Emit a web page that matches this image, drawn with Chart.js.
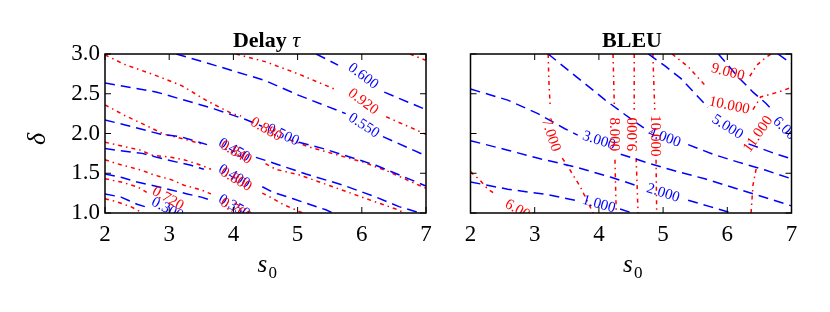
<!DOCTYPE html>
<html>
<head>
<meta charset="utf-8">
<script src="https://cdn.jsdelivr.net/npm/chart.js@4.4.0/dist/chart.umd.min.js"></script>
<style>
  body { margin: 0; background: #fff; width: 830px; height: 312px; position: relative; overflow: hidden; }
  #delayChart { position: absolute; left: 0; top: 0; }
  #bleuChart { position: absolute; left: 440px; top: 0; }
</style>
</head>
<body>
<canvas id="delayChart" width="440" height="312"></canvas>
<canvas id="bleuChart" width="390" height="312"></canvas>
<script>
// axis ticks (both panels share them)
var xTicks = [2, 3, 4, 5, 6, 7];
var yTicks = [1.0, 1.5, 2.0, 2.5, 3.0];

// ---- Delay tau panel ----
// contour lines as [s0, delta] points, null = gap left for the inline label
var delayBlueLevels = ['0.600', '0.550', '0.500', '0.450', '0.400', '0.350', '0.300'];
var delayBlueLines = [
  [[5.29, 3.0], [5.63, 2.86], null, [6.35, 2.52], [7.0, 2.30]],
  [[3.11, 3.0], [3.70, 2.86], [4.48, 2.67], [5.02, 2.48], [5.75, 2.25], null, [6.33, 1.96], [7.0, 1.72]],
  [[2.0, 2.635], [2.81, 2.52], [3.70, 2.31], [4.21, 2.17], [4.45, 2.09], null, [5.02, 1.89], [5.40, 1.81], [6.22, 1.60], [7.0, 1.34]],
  [[2.0, 2.17], [2.30, 2.11], [2.87, 1.99], [3.18, 1.96], [3.59, 1.86], null, [4.35, 1.70], [4.62, 1.63], [5.13, 1.49], [5.71, 1.35], [6.22, 1.20], [6.58, 1.08], [6.91, 1.0]],
  [[2.0, 1.81], [2.19, 1.79], [2.58, 1.75], [2.81, 1.70], [3.12, 1.64], [3.34, 1.60], [3.54, 1.55], null, [4.45, 1.33], [4.62, 1.26], [4.93, 1.18], [5.18, 1.11], [5.44, 1.04], [5.55, 1.0]],
  [[2.0, 1.49], [2.25, 1.45], [2.50, 1.39], [2.72, 1.35], [3.03, 1.29], [3.28, 1.24], [3.50, 1.20], [3.65, 1.16]],
  [[2.0, 1.24], [2.25, 1.20], [2.50, 1.11], [2.70, 1.06]]
];
var delayBlueLabelAt = [[6.02, 2.72], [6.03, 2.10], [4.77, 1.98], [4.01, 1.79], [4.01, 1.46], [4.01, 1.08], [2.97, 1.05]];
var delayBlueLabelAngle = [37, 33, 25, 30, 30, 30, 27];

var delayRedLevels = ['0.960', '0.920', '0.880', '0.840', '0.800', '0.760', '0.720', '0.680'];
var delayRedLines = [
  [[6.75, 3.0], [7.0, 2.92]],
  [[4.04, 3.0], [4.51, 2.90], [5.01, 2.75], [5.57, 2.56], null, [6.38, 2.21], [7.0, 1.99]],
  [[2.0, 2.99], [2.30, 2.87], [2.76, 2.74], [3.20, 2.60], [3.59, 2.41], [3.98, 2.25], [4.12, 2.22], null, [4.88, 1.92], [5.18, 1.83], [6.02, 1.64], [6.42, 1.52], [7.0, 1.31]],
  [[2.0, 2.36], [2.30, 2.23], [2.72, 2.07], [2.92, 1.99], [3.23, 1.93], [3.50, 1.87], null, [4.50, 1.62], [4.66, 1.55], [5.02, 1.48], [5.55, 1.33], [6.07, 1.18], [6.53, 1.05], [6.67, 1.0]],
  [[2.0, 1.89], [2.33, 1.83], [2.56, 1.79], [2.72, 1.73], [3.03, 1.70], [3.23, 1.67], [3.50, 1.60], [3.65, 1.55], null, [4.45, 1.25], [4.62, 1.18], [4.77, 1.11], [5.08, 1.0]],
  [[2.0, 1.67], [2.19, 1.62], [2.56, 1.54], [2.76, 1.48], [3.03, 1.42], [3.23, 1.35], [3.50, 1.29], [3.65, 1.24]],
  [[2.0, 1.43], [2.25, 1.39], [2.50, 1.33], [2.65, 1.26]],
  [[2.0, 1.18], [2.19, 1.14], [2.40, 1.08], [2.59, 1.0]]
];
var delayRedLabelAt = [null, [6.02, 2.40], [4.51, 2.05], [4.04, 1.76], [4.04, 1.42], [4.04, 1.04], [2.98, 1.18], null];
var delayRedLabelAngle = [0, 37, 30, 30, 30, 30, 30, 0];

// ---- BLEU panel ----
var bleuBlueLevels = ['1.000', '2.000', '3.000', '4.000', '5.000', '6.000', '7.000'];
var bleuBlueLines = [
  [[2.0, 1.39], [2.58, 1.30], [3.21, 1.23], [3.63, 1.16], null, [4.33, 1.05], [4.52, 1.0]],
  [[2.0, 1.91], [2.58, 1.79], [3.10, 1.68], [3.63, 1.58], [4.19, 1.45], [4.64, 1.33], null, [5.39, 1.16], [5.73, 1.08], [6.07, 1.0]],
  [[2.0, 2.56], [2.58, 2.42], [3.05, 2.25], [3.47, 2.06], [3.67, 1.98], null, [4.34, 1.74], [4.80, 1.62], [5.23, 1.52], [5.65, 1.43], [6.21, 1.29], [7.0, 1.09]],
  [[3.21, 3.0], [3.67, 2.70], [4.10, 2.42], [4.52, 2.17], [4.70, 2.07], null, [5.39, 1.86], [5.81, 1.73], [6.17, 1.64], [6.59, 1.54], [7.0, 1.43]],
  [[4.77, 3.0], [5.03, 2.85], [5.28, 2.69], [5.50, 2.50], [5.70, 2.33], null, [6.33, 1.87], [6.70, 1.76], [7.0, 1.68]],
  [[5.86, 3.0], [6.17, 2.71], [6.40, 2.52], [6.60, 2.38], [6.72, 2.28]],
  [[6.79, 3.0], [7.0, 2.88]]
];
var bleuBlueLabelAt = [[4.0, 1.11], [5.0, 1.25], [4.0, 1.91], [5.02, 1.95], [6.0, 2.08], [6.93, 2.03], null];
var bleuBlueLabelAngle = [16, 18, 18, 20, 32, 45, 0];

var bleuRedLevels = ['6.000', '7.000', '8.000', '9.000', '10.000', '9.000', '10.000', '11.000'];
var bleuRedLines = [
  [[2.0, 1.52], [2.15, 1.41], [2.27, 1.30], [2.40, 1.23]],
  [[3.21, 3.0], [3.22, 2.67], [3.24, 2.36], null, [3.43, 1.69], [3.52, 1.58], [3.71, 1.33], [3.91, 1.0]],
  [[4.22, 3.0], [4.24, 2.36], null, [4.25, 1.67], [4.27, 1.0]],
  [[4.55, 3.0], [4.55, 2.30], null, [4.58, 1.69], [4.61, 1.0]],
  [[4.84, 3.0], [4.87, 2.30], null, [4.89, 1.67], [4.90, 1.0]],
  [[6.35, 2.72], [6.46, 2.86], [6.59, 2.95], [6.68, 3.0]],
  [[5.14, 3.0], [5.39, 2.84], [5.65, 2.61], null, [6.40, 2.30], [6.52, 2.46], [6.79, 2.52], [7.0, 2.58]],
  [[6.37, 1.0], [6.40, 1.35], [6.46, 1.60]]
];
var bleuRedLabelAt = [[2.78, 1.02], [3.25, 1.98], [4.235, 1.99], [4.53, 1.99], [4.87, 1.97], [6.01, 2.77], [6.03, 2.35], [6.48, 1.99]];
var bleuRedLabelAngle = [30, 72, 90, -90, 90, 15, 12, -55];

var BLUE = '#0000ff', RED = '#ff0000';
var SERIF = '"Liberation Serif", "DejaVu Serif", serif';

function toSegments(line) {
  var segs = [], cur = [];
  line.forEach(function (p) {
    if (p === null) { if (cur.length > 1) segs.push(cur); cur = []; }
    else cur.push({ x: p[0], y: p[1] });
  });
  if (cur.length > 1) segs.push(cur);
  return segs;
}

function contourSets(lines, color, dash) {
  var out = [];
  lines.forEach(function (line) {
    toSegments(line).forEach(function (seg) {
      out.push({ data: seg, borderColor: color, borderWidth: 1.5, borderDash: dash,
                 pointRadius: 0, fill: false, tension: 0 });
    });
  });
  return out;
}

function labelList(levels, at, angle, color) {
  var out = [];
  levels.forEach(function (t, i) {
    if (at[i]) out.push({ text: t, at: at[i], angle: angle[i], color: color });
  });
  return out;
}

function seg(ctx, x1, y1, x2, y2) {
  ctx.beginPath(); ctx.moveTo(x1, y1); ctx.lineTo(x2, y2); ctx.stroke();
}

// frame, inward ticks, inline contour labels, title and axis labels
function decorPlugin(cfg) {
  return {
    id: 'decor',
    afterDatasetsDraw: function (chart) {
      var ctx = chart.ctx, a = chart.chartArea, sx = chart.scales.x, sy = chart.scales.y;

      ctx.save();
      ctx.beginPath();
      ctx.rect(a.left, a.top, a.right - a.left, a.bottom - a.top);
      ctx.clip();
      ctx.font = '15px ' + SERIF;
      ctx.textAlign = 'center';
      ctx.textBaseline = 'middle';
      cfg.labels.forEach(function (l) {
        ctx.save();
        ctx.translate(sx.getPixelForValue(l.at[0]), sy.getPixelForValue(l.at[1]));
        ctx.rotate(l.angle * Math.PI / 180);
        ctx.fillStyle = l.color;
        ctx.fillText(l.text, 0, 0);
        ctx.restore();
      });
      ctx.restore();

      ctx.save();
      ctx.strokeStyle = '#000';
      ctx.lineWidth = 1.5;
      ctx.strokeRect(a.left, a.top, a.right - a.left, a.bottom - a.top);
      ctx.lineWidth = 1;
      xTicks.forEach(function (v) {
        var px = sx.getPixelForValue(v);
        seg(ctx, px, a.bottom, px, a.bottom - 6);
        seg(ctx, px, a.top, px, a.top + 6);
      });
      yTicks.forEach(function (v) {
        var py = sy.getPixelForValue(v);
        seg(ctx, a.left, py, a.left + 6, py);
        seg(ctx, a.right, py, a.right - 6, py);
      });

      // title
      ctx.fillStyle = '#000';
      ctx.textBaseline = 'alphabetic';
      ctx.textAlign = 'left';
      var cx = (a.left + a.right) / 2;
      ctx.font = 'bold 22px ' + SERIF;
      var w1 = ctx.measureText(cfg.title).width;
      var w2 = 0;
      if (cfg.titleSym) {
        ctx.font = 'italic 22px ' + SERIF;
        w2 = ctx.measureText(' ' + cfg.titleSym).width;
      }
      var tx = cx - (w1 + w2) / 2 + 1;
      ctx.font = 'bold 22px ' + SERIF;
      ctx.fillText(cfg.title, tx, 47);
      if (cfg.titleSym) {
        ctx.font = 'italic 22px ' + SERIF;
        ctx.fillText(' ' + cfg.titleSym, tx + w1, 47);
      }

      // x label: s with subscript 0
      ctx.font = 'italic 25px ' + SERIF;
      ctx.fillText('s', cx - 8, 272);
      ctx.font = '17px ' + SERIF;
      ctx.fillText('0', cx + 3, 278);

      // y label
      if (cfg.yLabel) {
        ctx.save();
        ctx.translate(45, 139);
        ctx.rotate(-Math.PI / 2);
        ctx.textAlign = 'center';
        ctx.font = 'italic 26px ' + SERIF;
        ctx.fillText(cfg.yLabel, 0, 0);
        ctx.restore();
      }
      ctx.restore();
    }
  };
}

function makePanel(id, datasets, cfg) {
  var tickFont = { family: SERIF, size: 23 };
  return new Chart(document.getElementById(id), {
    type: 'line',
    data: { datasets: datasets },
    options: {
      responsive: false,
      animation: false,
      devicePixelRatio: 1,
      events: [],
      layout: { padding: { top: 54, right: cfg.padRight, left: 0, bottom: 0 } },
      plugins: { legend: { display: false }, tooltip: { enabled: false } },
      scales: {
        x: {
          type: 'linear', min: 2, max: 7,
          afterBuildTicks: function (s) { s.ticks = xTicks.map(function (v) { return { value: v }; }); },
          grid: { display: false, drawTicks: false },
          border: { display: false },
          ticks: { font: tickFont, color: '#000', padding: 8, maxRotation: 0, autoSkip: false,
                   callback: function (v) { return String(v); } },
          afterFit: function (s) { s.height = 99; }
        },
        y: {
          type: 'linear', min: 1, max: 3,
          afterBuildTicks: function (s) { s.ticks = yTicks.map(function (v) { return { value: v }; }); },
          grid: { display: false, drawTicks: false },
          border: { display: false },
          ticks: { display: cfg.showY, font: tickFont, color: '#000', padding: 5,
                   callback: function (v) { return v.toFixed(1); } },
          afterFit: function (s) { s.width = cfg.yWidth; }
        }
      }
    },
    plugins: [decorPlugin(cfg)]
  });
}

var blueDash = [10, 6];
var redDash = [4, 4, 1.5, 4];

var delaySets = contourSets(delayBlueLines, BLUE, blueDash)
  .concat(contourSets(delayRedLines, RED, redDash));
makePanel('delayChart', delaySets, {
  title: 'Delay', titleSym: '\u03C4', yLabel: '\u03B4',
  showY: true, yWidth: 105, padRight: 14,
  labels: labelList(delayBlueLevels, delayBlueLabelAt, delayBlueLabelAngle, BLUE)
    .concat(labelList(delayRedLevels, delayRedLabelAt, delayRedLabelAngle, RED))
});

var bleuSets = contourSets(bleuBlueLines, BLUE, blueDash)
  .concat(contourSets(bleuRedLines, RED, redDash));
makePanel('bleuChart', bleuSets, {
  title: 'BLEU', titleSym: null, yLabel: null,
  showY: false, yWidth: 30.5, padRight: 38.5,
  labels: labelList(bleuBlueLevels, bleuBlueLabelAt, bleuBlueLabelAngle, BLUE)
    .concat(labelList(bleuRedLevels, bleuRedLabelAt, bleuRedLabelAngle, RED))
});
</script>
</body>
</html>
